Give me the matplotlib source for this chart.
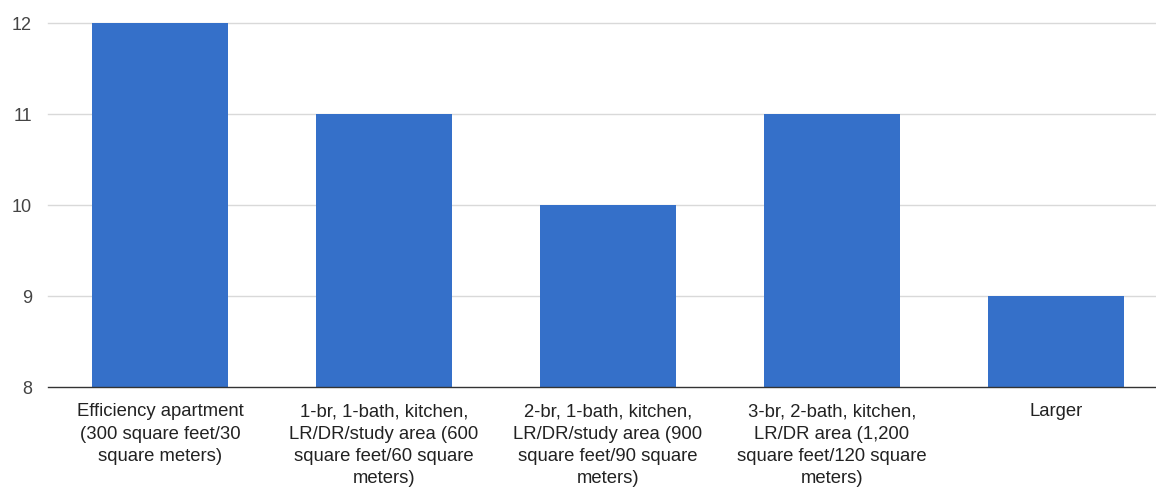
import matplotlib
matplotlib.use("Agg")
import matplotlib.pyplot as plt

categories = [
    "Efficiency apartment\n(300 square feet/30\nsquare meters)",
    "1-br, 1-bath, kitchen,\nLR/DR/study area (600\nsquare feet/60 square\nmeters)",
    "2-br, 1-bath, kitchen,\nLR/DR/study area (900\nsquare feet/90 square\nmeters)",
    "3-br, 2-bath, kitchen,\nLR/DR area (1,200\nsquare feet/120 square\nmeters)",
    "Larger",
]
values = [12, 11, 10, 11, 9]
yticks = [8, 9, 10, 11, 12]

plt.rcParams['font.family'] = ['Liberation Sans', 'DejaVu Sans']

fig = plt.figure(figsize=(11.56, 4.89), dpi=100)
W, H = 1156, 489
ax = fig.add_axes([48 / W, (H - 388) / H, 1120 / W, 364 / H])

x = list(range(len(categories)))
ax.bar(x, [v - 8 for v in values], bottom=8, width=0.61, color="#3570c9", zorder=3, clip_on=False)

ax.set_xlim(-0.5, len(categories) - 0.5)
ax.set_ylim(8, 12)
ax.set_yticks(yticks)
ax.set_yticklabels([str(t) for t in yticks], fontsize=13, color="#444444")
ax.set_xticks(x)
ax.set_xticklabels(categories, fontsize=13.3, color="#222222", linespacing=1.41, va="top")
ax.tick_params(axis="both", length=0)
ax.tick_params(axis="y", pad=11.5)
ax.tick_params(axis="x", pad=11)

for t in yticks[1:]:
    ax.axhline(t, color="#d9d9d9", linewidth=1, zorder=1, clip_on=False)
ax.axhline(8, color="#333333", linewidth=1, zorder=4, clip_on=False)

for s in ax.spines.values():
    s.set_visible(False)

fig.savefig("out.png", dpi=100)
